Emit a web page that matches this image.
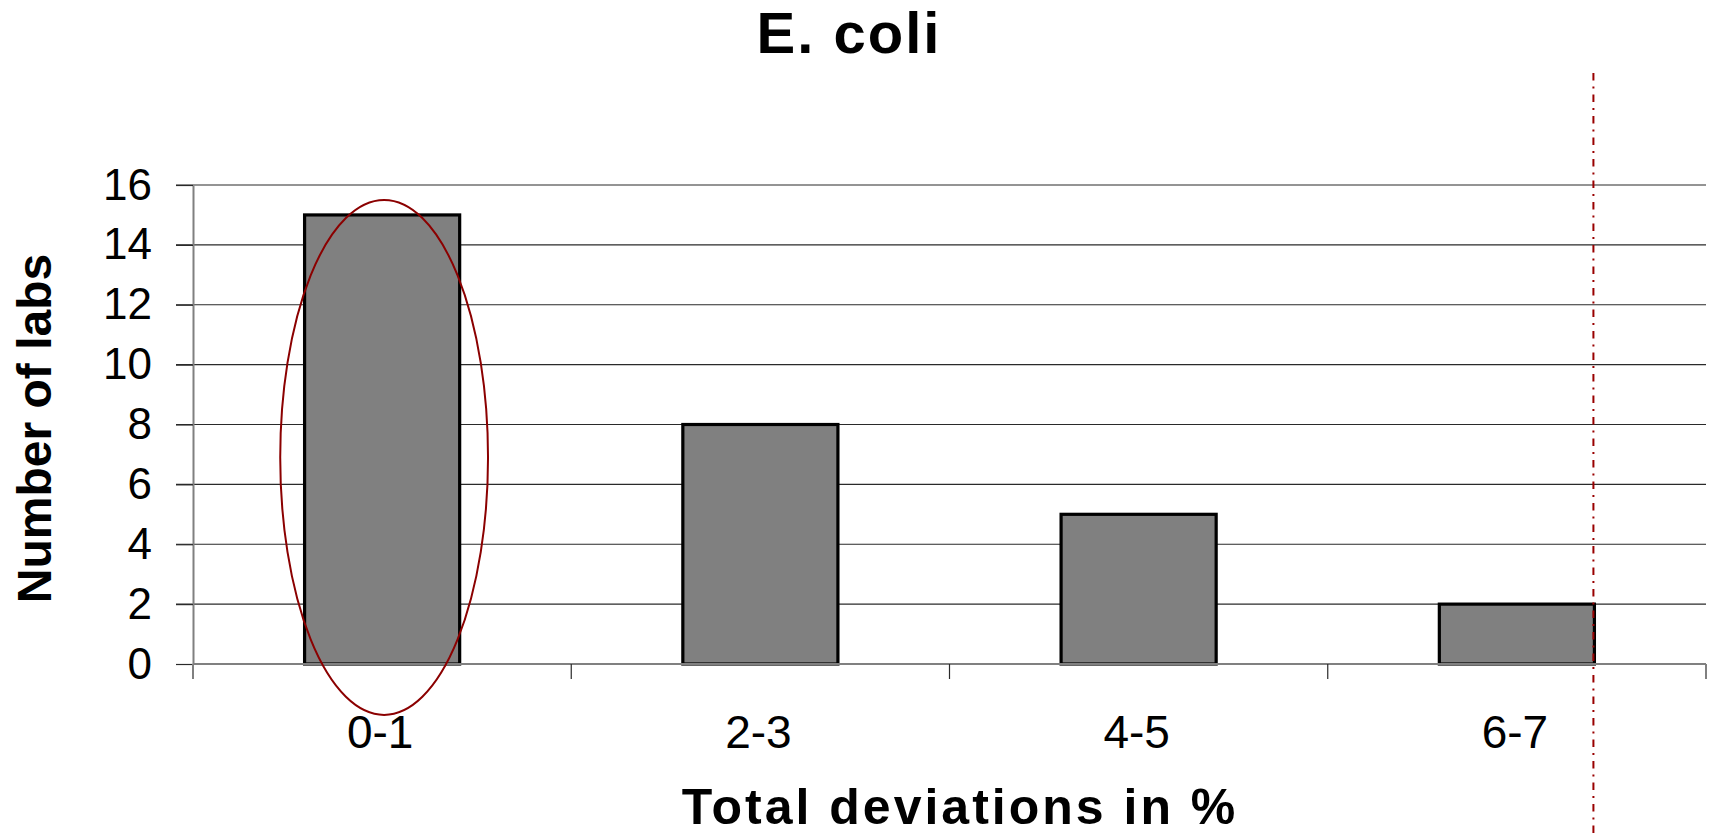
<!DOCTYPE html>
<html>
<head>
<meta charset="utf-8">
<script src="https://cdn.jsdelivr.net/npm/d3@7"></script>
<style>
  body { margin: 0; background: #fff; }
  text { font-family: 'Liberation Sans', Arial, sans-serif; fill: #000; }
</style>
</head>
<body>
<div id="chart"></div>
<script>
let categories = ['0-1', '2-3', '4-5', '6-7']
let labCounts = [15, 8, 5, 2]
let yTicks = [0, 2, 4, 6, 8, 10, 12, 14, 16]

let datapoints = categories.map((c, i) => ({ range: c, labs: labCounts[i] }))

let margin = { top: 185, left: 193, right: 5, bottom: 172 }
let width = 1711 - margin.left - margin.right
let height = 836 - margin.top - margin.bottom

let svg = d3
  .select('#chart')
  .append('svg')
  .attr('width', width + margin.left + margin.right)
  .attr('height', height + margin.top + margin.bottom)

let g = svg
  .append('g')
  .attr('transform', 'translate(' + margin.left + ',' + margin.top + ')')

let xPositionScale = d3
  .scaleBand()
  .domain(categories)
  .range([0, width])
  .paddingInner(0.59)
  .paddingOuter(0.295)

let yPositionScale = d3
  .scaleLinear()
  .domain([0, 16])
  .range([height, 0])

// gridlines (tick stubs run on into them)
g.selectAll('.grid')
  .data(yTicks.filter(d => d > 0))
  .enter()
  .append('line')
  .attr('class', 'grid')
  .attr('x1', -17)
  .attr('x2', width)
  .attr('y1', d => yPositionScale(d))
  .attr('y2', d => yPositionScale(d))
  .attr('stroke', '#2a2a2a')
  .attr('stroke-width', 1.2)

// bars
g.selectAll('.bar')
  .data(datapoints)
  .enter()
  .append('rect')
  .attr('class', 'bar')
  .attr('x', d => xPositionScale(d.range))
  .attr('y', d => yPositionScale(d.labs))
  .attr('width', xPositionScale.bandwidth())
  .attr('height', d => height - yPositionScale(d.labs))
  .attr('fill', '#808080')
  .attr('stroke', '#000')
  .attr('stroke-width', 3.2)

// y axis
let yAxis = d3
  .axisLeft(yPositionScale)
  .tickValues(yTicks)
  .tickSize(17)
  .tickSizeOuter(0)
  .tickPadding(24)

let yAxisG = g.append('g').attr('class', 'axis y-axis').call(yAxis)
yAxisG.select('.domain').attr('stroke', '#808080').attr('stroke-width', 2)
yAxisG.selectAll('.tick line').attr('stroke', '#2a2a2a').attr('stroke-width', 1.2)
yAxisG
  .selectAll('.tick text')
  .style('font-size', '44px')
  .style('font-family', "'Liberation Sans', Arial, sans-serif")
  .attr('fill', '#000')

// x axis: baseline, boundary ticks, category labels
g.append('line')
  .attr('x1', 0)
  .attr('x2', width)
  .attr('y1', height)
  .attr('y2', height)
  .attr('stroke', '#808080')
  .attr('stroke-width', 2)

let boundaries = d3.range(categories.length + 1).map(i => i * xPositionScale.step())
g.selectAll('.x-tick')
  .data(boundaries)
  .enter()
  .append('line')
  .attr('class', 'x-tick')
  .attr('x1', d => d)
  .attr('x2', d => d)
  .attr('y1', height)
  .attr('y2', height + 15)
  .attr('stroke', (d, i) => (i === 0 || i === categories.length ? '#808080' : '#2a2a2a'))
  .attr('stroke-width', (d, i) => (i === 0 || i === categories.length ? 2 : 1.2))

g.selectAll('.x-label')
  .data(categories)
  .enter()
  .append('text')
  .attr('class', 'x-label')
  .attr('x', d => xPositionScale(d) + xPositionScale.bandwidth() / 2 - 2)
  .attr('y', height + 84)
  .attr('text-anchor', 'middle')
  .style('font-size', '46px')
  .text(d => d)

// highlight ellipse round the first bar
let first = categories[0]
let ellipseTop = yPositionScale(15.5)
let ellipseBottom = yPositionScale(-1.7)
g.append('ellipse')
  .attr('cx', xPositionScale(first) + xPositionScale.bandwidth() / 2 + 2)
  .attr('cy', (ellipseTop + ellipseBottom) / 2)
  .attr('rx', xPositionScale.bandwidth() * 0.67)
  .attr('ry', (ellipseBottom - ellipseTop) / 2)
  .attr('fill', 'none')
  .attr('stroke', '#8b0000')
  .attr('stroke-width', 2)

// dash-dot limit line at the right edge of the last bar
let last = categories[categories.length - 1]
let limitX = xPositionScale(last) + xPositionScale.bandwidth() - 1
g.append('line')
  .attr('x1', limitX)
  .attr('x2', limitX)
  .attr('y1', -112)
  .attr('y2', height + margin.bottom)
  .attr('stroke', '#990000')
  .attr('stroke-width', 2)
  .attr('stroke-dasharray', '7.5,6,2,6')

// titles
svg
  .append('text')
  .attr('x', 849)
  .attr('y', 53)
  .attr('text-anchor', 'middle')
  .style('font-size', '58px')
  .style('font-weight', 'bold')
  .style('letter-spacing', '2px')
  .text('E. coli')

svg
  .append('text')
  .attr('x', 960)
  .attr('y', 824)
  .attr('text-anchor', 'middle')
  .style('font-size', '50px')
  .style('font-weight', 'bold')
  .style('letter-spacing', '3px')
  .text('Total deviations in %')

svg
  .append('text')
  .attr('transform', 'translate(51,' + (margin.top + height / 2 + 4) + ') rotate(-90)')
  .attr('text-anchor', 'middle')
  .style('font-size', '48px')
  .style('font-weight', 'bold')
  .text('Number of labs')
</script>
</body>
</html>
